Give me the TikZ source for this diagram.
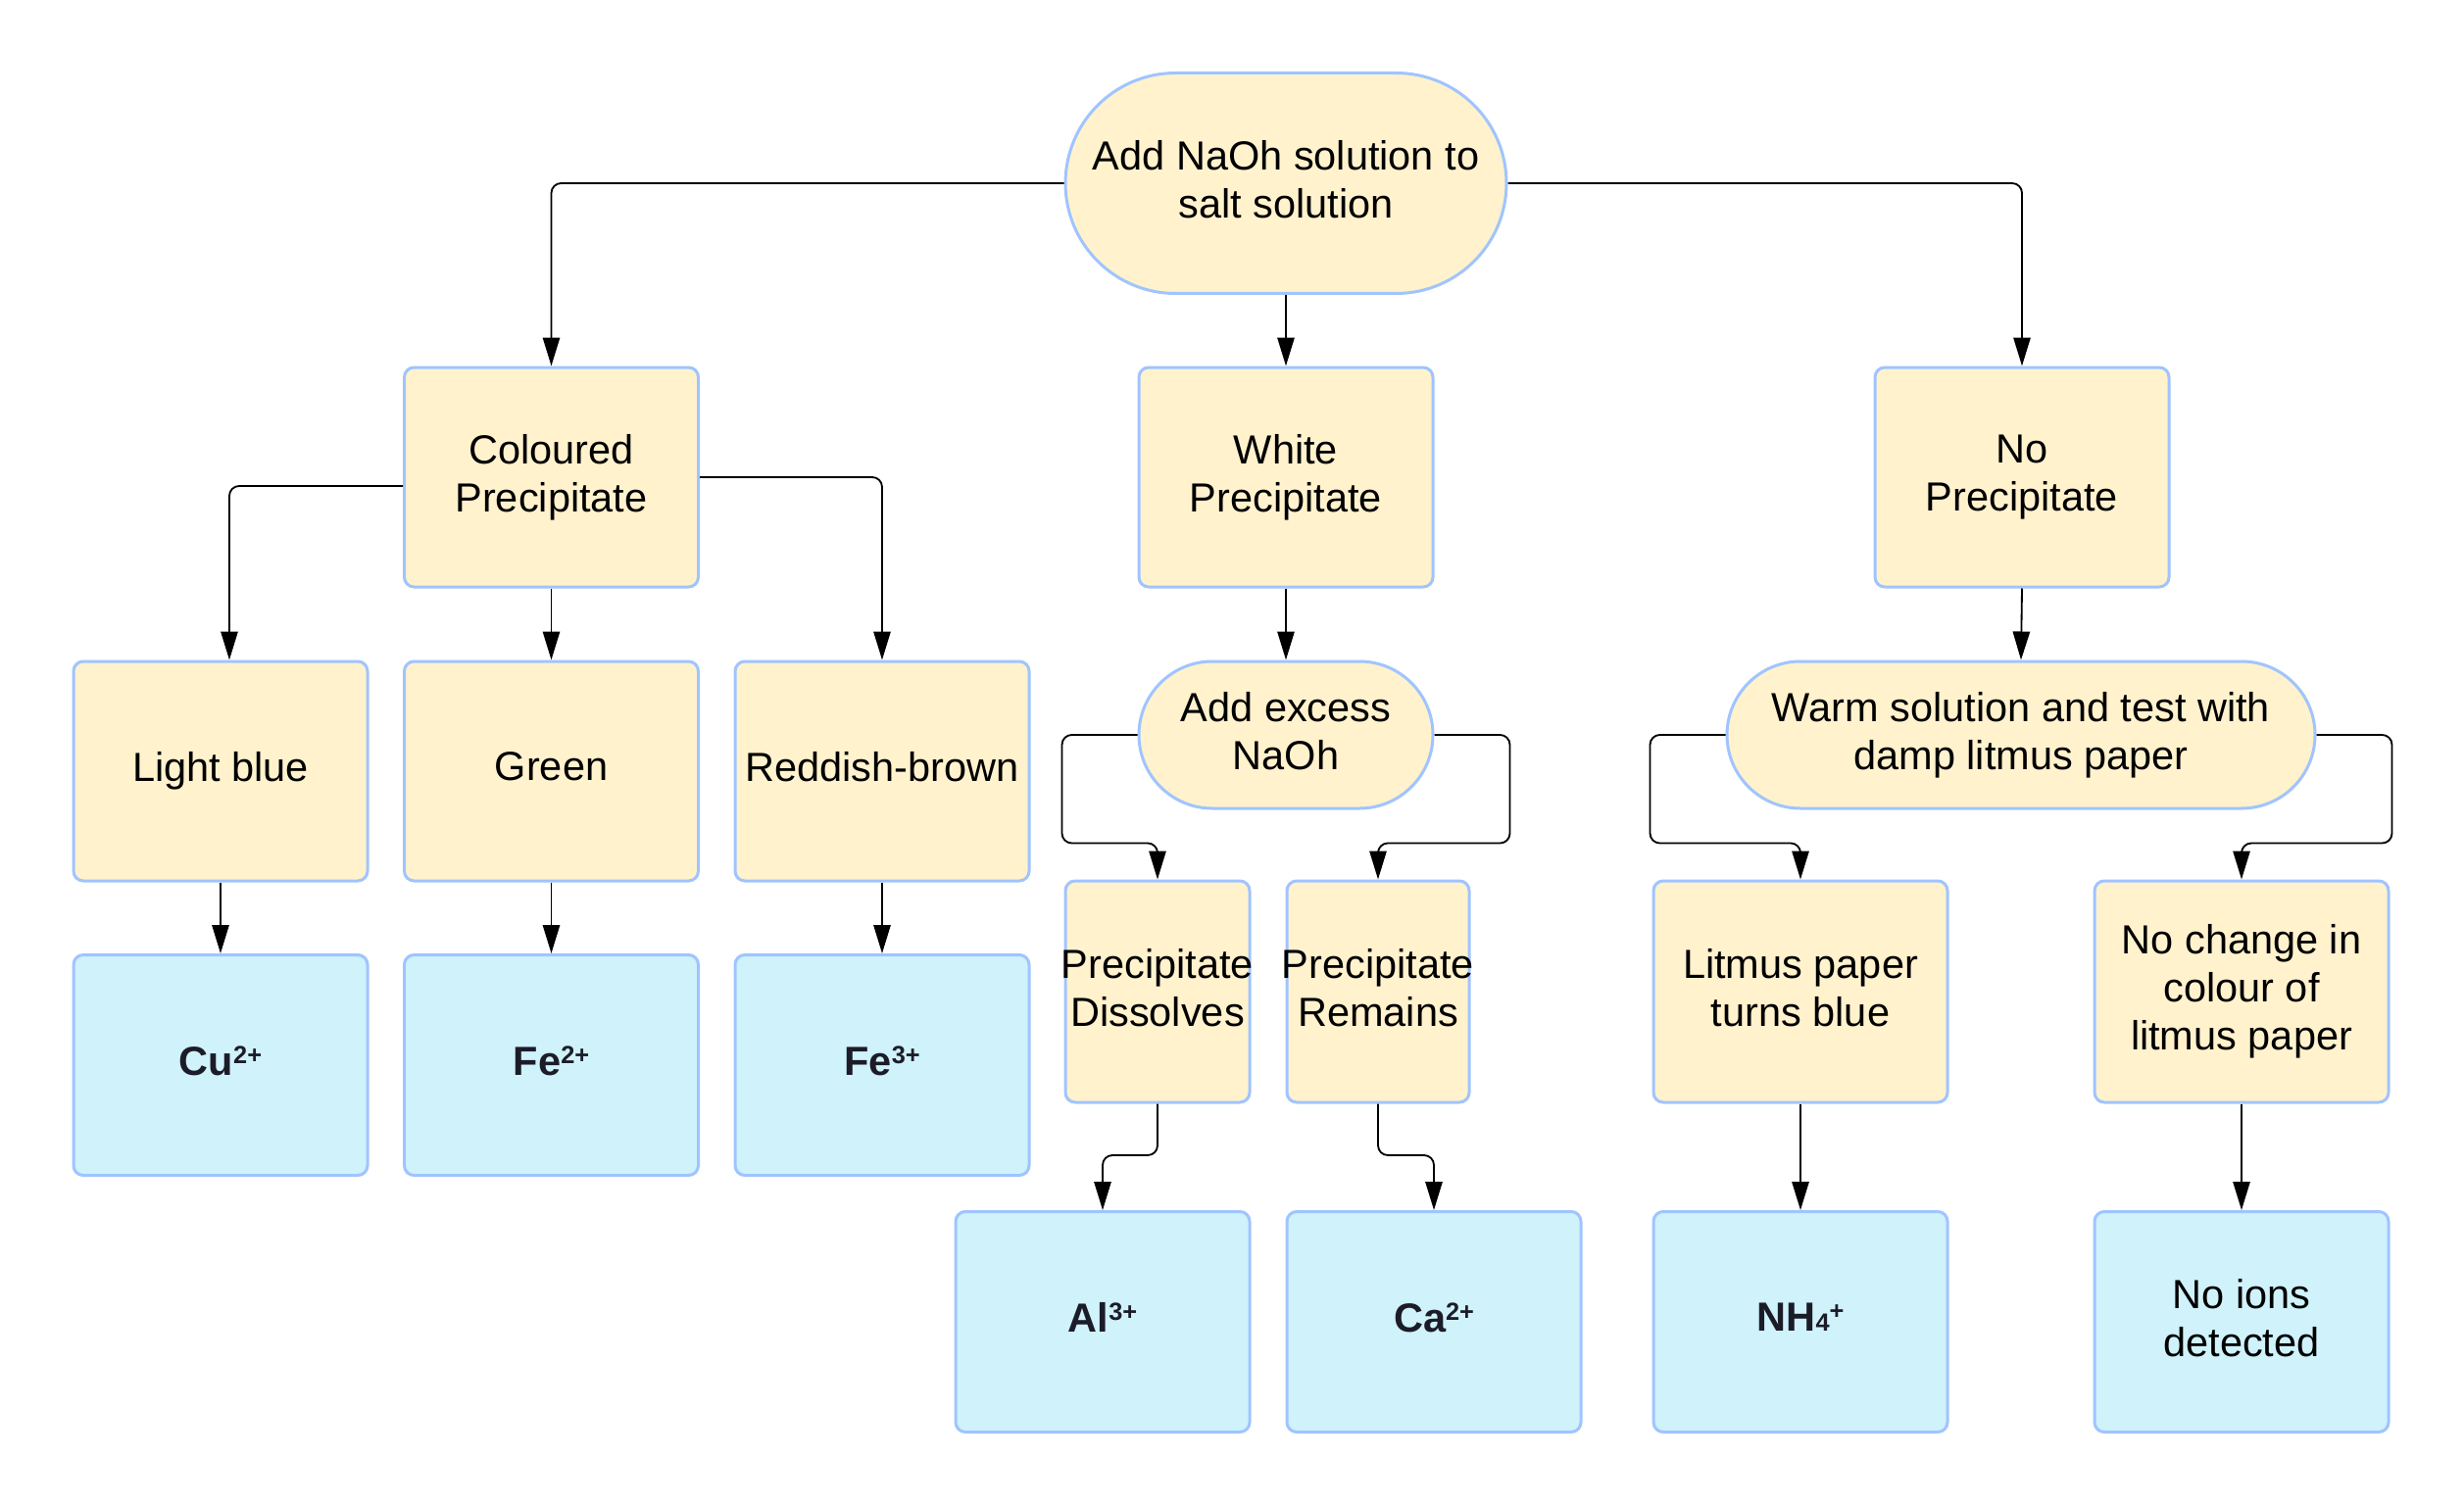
\documentclass[tikz,border=0pt]{standalone}
\usepackage{fontspec}
\setmainfont{Liberation Sans}
\usetikzlibrary{arrows.meta}
\definecolor{fillY}{RGB}{255,242,205}
\definecolor{edgeB}{RGB}{160,196,255}
\definecolor{fillC}{RGB}{207,242,251}
\definecolor{ionT}{RGB}{28,28,40}
\newcommand\ionsup[1]{\raisebox{0.3em}{\fontsize{7.6}{8}\selectfont #1}}
\newcommand\ionsub[1]{{\fontsize{7.6}{8}\selectfont #1}}
\tikzset{
 base/.style={draw=edgeB, line width=0.9pt, inner sep=0pt, align=center, font=\fontsize{12.45}{14.7}\selectfont, text=black, text depth=2.7pt},
 ybox/.style={base, fill=fillY, rounded corners=3pt, minimum width=90pt, minimum height=67.2pt},
 cbox/.style={base, fill=fillC, rounded corners=3pt, minimum width=90pt, minimum height=67.5pt},
 pill/.style={base, fill=fillY, rounded corners=22.5pt, minimum height=45pt},
 conn/.style={draw=black, line width=0.55pt, rounded corners=3pt, -{Triangle[length=8.7pt,width=5.2pt]}},
}
\begin{document}
\begin{tikzpicture}[x=0.3pt,y=-0.3pt]
\useasboundingbox (0,0) rectangle (2514,1538);
% row 1
\node[pill, minimum width=135pt, minimum height=67.5pt, rounded corners=33.75pt] (top) at (1312,187) {Add NaOh solution to\\salt solution};
% row 2
\node[ybox] (coloured) at (562.5,487) {Coloured\\Precipitate};
\node[ybox] (white) at (1312,487) {White\\Precipitate};
\node[ybox] (noppt) at (2063,487) {No\\Precipitate};
% row 3
\node[ybox] (lightblue) at (225,787) {Light blue};
\node[ybox] (green) at (562.5,787) {Green};
\node[ybox] (reddish) at (900,787) {Reddish-brown};
\node[pill, minimum width=90pt] (excess) at (1312,750) {Add excess\\NaOh};
\node[pill, minimum width=180pt] (warm) at (2062,750) {Warm solution and test with\\damp litmus paper};
% row 4
\node[ybox, minimum width=56.4pt, minimum height=67.8pt] (dissolves) at (1181,1012) {\makebox[50pt]{Precipitate}\\\makebox[50pt]{Dissolves}};
\node[ybox, minimum width=55.8pt, minimum height=67.8pt] (remains) at (1406,1012) {\makebox[50pt]{Precipitate}\\\makebox[50pt]{Remains}};
\node[ybox, minimum height=67.8pt] (litmus) at (1837,1012) {Litmus paper\\turns blue};
\node[ybox, minimum height=67.8pt] (nochange) at (2287,1012) {No change in\\colour of\\litmus paper};
% ion row left
\node[cbox] (cu) at (225,1087) {\textbf{\color{ionT}Cu\ionsup{2+}}};
\node[cbox] (fe2) at (562.5,1087) {\textbf{\color{ionT}Fe\ionsup{2+}}};
\node[cbox] (fe3) at (900,1087) {\textbf{\color{ionT}Fe\ionsup{3+}}};
% ion row right
\node[cbox] (al) at (1125,1349) {\textbf{\color{ionT}Al\ionsup{3+}}};
\node[cbox] (ca) at (1463,1349) {\textbf{\color{ionT}Ca\ionsup{2+}}};
\node[cbox] (nh4) at (1837,1349) {\textbf{\color{ionT}NH\ionsub{4}\ionsup{+}}};
\node[cbox] (noions) at (2287,1349) {No ions\\detected};
% connectors
\draw[conn] (top.west) -| (coloured.north);
\draw[conn] (top.south) -- (white.north);
\draw[conn] (top.east) -| (noppt.north);
\draw[conn] ([yshift=-2.7pt]coloured.west) -| ([xshift=2.7pt]lightblue.north);
\draw[conn] (coloured.south) -- (green.north);
\draw[conn] (coloured.east) -| (reddish.north);
\draw[conn] (lightblue.south) -- (cu.north);
\draw[conn] (green.south) -- (fe2.north);
\draw[conn] (reddish.south) -- (fe3.north);
\draw[conn] (white.south) -- (excess.north);
\draw[conn] (excess.west) -- ++(-77,0) |- ([yshift=11.1pt]dissolves.north) -- (dissolves.north);
\draw[conn] (excess.east) -- ++(77,0) |- ([yshift=11.1pt]remains.north) -- (remains.north);
\draw[conn] (dissolves.south) |- ([yshift=16.8pt]al.north) -- (al.north);
\draw[conn] (remains.south) |- ([yshift=16.8pt]ca.north) -- (ca.north);
\draw[conn] (noppt.south) -- (warm.north);
\draw[conn] (warm.west) -- ++(-77,0) |- ([yshift=11.1pt]litmus.north) -- (litmus.north);
\draw[conn] (warm.east) -- ++(77,0) |- ([yshift=11.1pt]nochange.north) -- (nochange.north);
\draw[conn] (litmus.south) -- (nh4.north);
\draw[conn] (nochange.south) -- (noions.north);
\end{tikzpicture}
\end{document}
